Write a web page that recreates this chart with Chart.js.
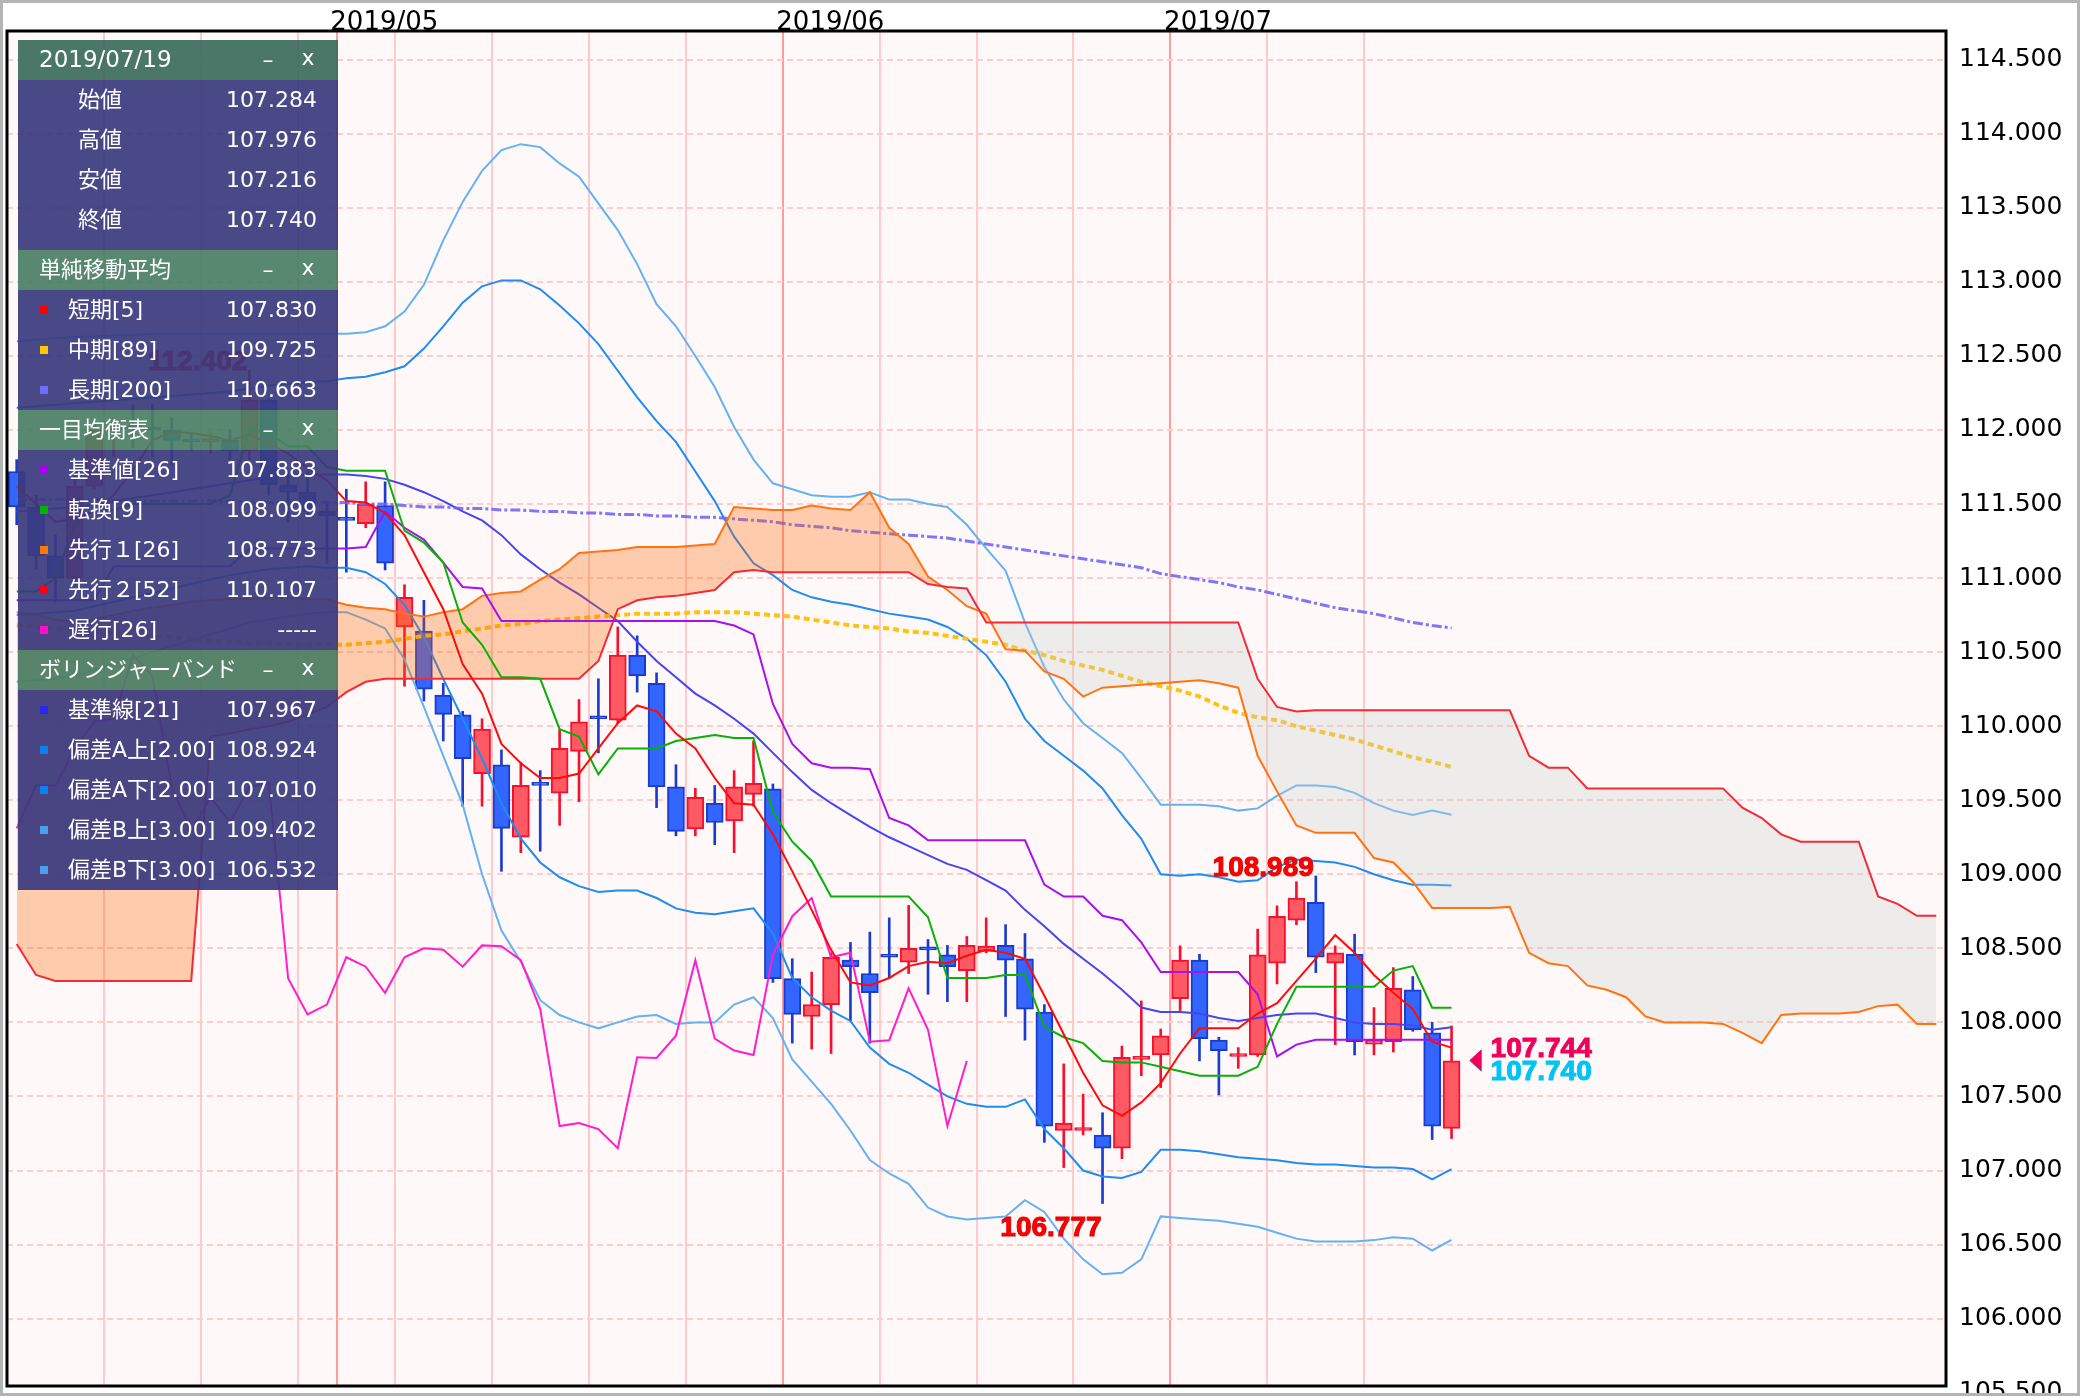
<!DOCTYPE html>
<html>
<head>
<meta charset="utf-8">
<title>USD/JPY 日足</title>
<script src="https://cdn.jsdelivr.net/npm/chart.js@4.4.1/dist/chart.umd.min.js"></script>
<style>
  html, body { margin: 0; padding: 0; background: #fff; }
  canvas { display: block; }
</style>
</head>
<body>
<canvas id="chart" width="2080" height="1396"></canvas>
<script>
// ---- categories (trading days, last 25 are the cloud's future slots) ----
const dates = [
  '2019/04/08','2019/04/09','2019/04/10','2019/04/11','2019/04/12',
  '2019/04/15','2019/04/16','2019/04/17','2019/04/18','2019/04/19',
  '2019/04/22','2019/04/23','2019/04/24','2019/04/25','2019/04/26',
  '2019/04/29','2019/04/30','2019/05/01','2019/05/02','2019/05/03',
  '2019/05/06','2019/05/07','2019/05/08','2019/05/09','2019/05/10',
  '2019/05/13','2019/05/14','2019/05/15','2019/05/16','2019/05/17',
  '2019/05/20','2019/05/21','2019/05/22','2019/05/23','2019/05/24',
  '2019/05/27','2019/05/28','2019/05/29','2019/05/30','2019/05/31',
  '2019/06/03','2019/06/04','2019/06/05','2019/06/06','2019/06/07',
  '2019/06/10','2019/06/11','2019/06/12','2019/06/13','2019/06/14',
  '2019/06/17','2019/06/18','2019/06/19','2019/06/20','2019/06/21',
  '2019/06/24','2019/06/25','2019/06/26','2019/06/27','2019/06/28',
  '2019/07/01','2019/07/02','2019/07/03','2019/07/04','2019/07/05',
  '2019/07/08','2019/07/09','2019/07/10','2019/07/11','2019/07/12',
  '2019/07/15','2019/07/16','2019/07/17','2019/07/18','2019/07/19',
  '2019/07/22','2019/07/23','2019/07/24','2019/07/25','2019/07/26',
  '2019/07/29','2019/07/30','2019/07/31','2019/08/01','2019/08/02',
  '2019/08/05','2019/08/06','2019/08/07','2019/08/08','2019/08/09',
  '2019/08/12','2019/08/13','2019/08/14','2019/08/15','2019/08/16',
  '2019/08/19','2019/08/20','2019/08/21','2019/08/22','2019/08/23'
];
const monthStarts = [17, 40, 60];
const monthNames = ['2019/05', '2019/06', '2019/07'];
const weekStarts = [0, 5, 10, 15, 20, 25, 30, 35, 40, 45, 50, 55, 60, 65, 70];

// ---- price axis ----
const yMin = 105.545, yMax = 114.694, yStep = 0.5;
const yExtraTicks = [105.5];

// ---- candles ----
const opens = [
  111.72,111.48,111.15,111.00,111.62, 112.00,112.02,112.01,112.00,111.93,
  111.92,111.93,111.86,112.20,111.63, 111.58,111.45,111.40,111.367,111.49,
  110.67,110.643,110.21,110.077,109.68, 109.74,109.25,109.61,109.548,109.83,
  110.06,110.04,110.48,110.29,109.59, 109.307,109.48,109.36,109.54,109.577,
  108.296,108.04,108.12,108.42,108.33, 108.45,108.406,108.50,108.457,108.35,
  108.48,108.52,108.43,108.07,107.27, 107.27,107.24,107.15,107.75,107.78,
  108.16,108.42,107.88,107.77,107.78, 108.40,108.69,108.81,108.40,108.46,
  107.853,107.87,108.22,107.93,107.284
];
const highs = [
  111.80,111.56,111.29,111.70,112.07, 112.08,112.17,112.17,112.08,111.98,
  111.98,112.00,112.402,112.21,111.72, 111.72,111.50,111.60,111.65,111.65,
  110.955,110.85,110.29,110.10,110.05, 109.84,109.755,109.70,109.977,110.18,
  110.32,110.67,110.61,110.36,109.74, 109.58,109.60,109.70,109.90,109.61,
  108.43,108.34,108.47,108.54,108.61, 108.706,108.79,108.56,108.52,108.58,
  108.706,108.66,108.60,108.12,107.72, 107.516,107.39,107.84,108.145,107.955,
  108.517,108.46,107.90,107.83,108.63, 108.787,108.95,108.989,108.517,108.596,
  108.10,108.37,108.31,108.00,107.976
];
const lows = [
  111.36,111.06,110.84,110.95,111.60, 111.82,111.88,111.82,111.76,111.86,
  111.84,111.80,111.80,111.56,111.38, 111.43,111.10,111.04,111.34,111.055,
  110.27,110.17,109.90,109.46,109.46, 109.02,109.146,109.156,109.33,109.49,
  109.82,110.02,110.23,109.45,109.26, 109.26,109.20,109.146,109.46,108.27,
  107.86,107.82,107.79,108.01,107.86, 108.30,108.33,108.19,108.14,108.14,
  108.47,108.04,107.88,107.19,107.02, 107.24,106.777,107.08,107.64,107.56,
  108.08,107.74,107.51,107.69,107.77, 108.26,108.66,108.336,107.85,107.78,
  107.78,107.80,107.94,107.209,107.216
];
const closes = [
  111.48,111.15,111.00,111.62,112.00, 112.02,112.01,112.00,111.93,111.92,
  111.93,111.86,112.20,111.63,111.58, 111.45,111.42,111.39,111.50,111.10,
  110.87,110.25,110.08,109.78,109.98, 109.31,109.60,109.60,109.85,110.03,
  110.05,110.48,110.34,109.59,109.29, 109.52,109.35,109.59,109.615,108.296,
  108.054,108.12,108.44,108.376,108.20, 108.44,108.50,108.49,108.376,108.52,
  108.515,108.42,108.09,107.30,107.32, 107.28,107.15,107.765,107.76,107.91,
  108.42,107.89,107.81,107.78,108.456, 108.717,108.84,108.44,108.47,107.87,
  107.88,108.23,107.95,107.30,107.740
];

// ---- moving averages ----
const sma5 = [
  111.62,111.50,111.38,111.40,111.45, 111.56,111.73,111.93,111.99,111.98,
  111.96,111.93,111.97,111.91,111.84, 111.74,111.66,111.52,111.51,111.44,
  111.29,111.04,110.79,110.42,110.22, 109.88,109.75,109.65,109.65,109.68,
  109.85,110.02,110.14,110.10,109.95, 109.85,109.65,109.48,109.47,109.27,
  109.02,108.76,108.49,108.27,108.25, 108.30,108.38,108.41,108.40,108.45,
  108.49,108.47,108.43,108.18,107.92, 107.66,107.44,107.37,107.46,107.59,
  107.79,107.96,107.96,107.96,108.06, 108.13,108.28,108.43,108.59,108.47,
  108.32,108.20,108.09,107.87,107.830
];
const sma89 = [
  110.68,110.67,110.66,110.65,110.64, 110.63,110.62,110.61,110.60,110.59,
  110.58,110.57,110.56,110.56,110.55, 110.55,110.55,110.55,110.56,110.57,
  110.59,110.61,110.62,110.64,110.66, 110.68,110.69,110.71,110.72,110.73,
  110.74,110.75,110.76,110.76,110.76, 110.77,110.77,110.77,110.76,110.75,
  110.74,110.72,110.70,110.68,110.67, 110.66,110.64,110.63,110.61,110.59,
  110.57,110.55,110.51,110.48,110.44, 110.41,110.38,110.34,110.30,110.27,
  110.24,110.20,110.14,110.09,110.06, 110.04,110.00,109.97,109.94,109.91,
  109.87,109.83,109.79,109.76,109.725
];
const sma200 = [
  111.53,111.53,111.53,111.53,111.53, 111.52,111.52,111.52,111.52,111.52,
  111.52,111.52,111.51,111.51,111.51, 111.51,111.51,111.51,111.50,111.50,
  111.49,111.48,111.48,111.47,111.47, 111.46,111.46,111.45,111.45,111.44,
  111.44,111.43,111.43,111.42,111.42, 111.41,111.41,111.40,111.39,111.38,
  111.36,111.35,111.34,111.32,111.31, 111.30,111.29,111.28,111.27,111.25,
  111.23,111.21,111.19,111.17,111.15, 111.13,111.11,111.09,111.07,111.03,
  111.01,110.99,110.97,110.94,110.92, 110.89,110.86,110.83,110.80,110.78,
  110.76,110.73,110.70,110.68,110.663
];

// ---- ichimoku ----
const kijun = [
  110.85,110.85,110.85,110.85,110.85, 111.08,111.08,111.08,111.08,111.08,
  111.08,111.08,111.20,111.20,111.20, 111.20,111.20,111.20,111.21,111.45,
  111.34,111.26,111.105,110.94,110.93, 110.71,110.71,110.71,110.71,110.71,
  110.71,110.71,110.71,110.71,110.71, 110.71,110.71,110.68,110.62,110.15,
  109.88,109.75,109.72,109.72,109.71, 109.38,109.33,109.23,109.23,109.23,
  109.23,109.23,109.23,108.93,108.85, 108.85,108.72,108.69,108.54,108.34,
  108.34,108.34,108.34,108.34,108.19, 107.77,107.85,107.883,107.883,107.883,
  107.883,107.883,107.883,107.883,107.883
];
const tenkan = [
  110.91,110.91,111.00,111.37,111.46, 111.46,111.50,111.50,111.50,111.50,
  111.50,111.56,112.00,111.98,111.89, 111.89,111.75,111.725,111.725,111.725,
  111.32,111.24,111.105,110.70,110.55, 110.33,110.33,110.32,109.98,109.93,
  109.675,109.85,109.85,109.85,109.90, 109.92,109.94,109.92,109.92,109.42,
  109.22,109.09,108.85,108.85,108.85, 108.85,108.85,108.71,108.30,108.30,
  108.30,108.32,108.32,107.97,107.90, 107.86,107.74,107.73,107.73,107.70,
  107.67,107.64,107.64,107.64,107.70, 107.99,108.24,108.24,108.24,108.24,
  108.24,108.35,108.38,108.099,108.099
];
const senkouA = [
  110.77,110.75,110.72,110.70,110.72, 110.75,110.78,110.80,110.82,110.84,
  110.85,110.86,110.86,110.87,110.87, 110.86,110.855,110.82,110.80,110.79,
  110.76,110.74,110.77,110.79,110.88, 110.90,110.91,110.99,111.06,111.17,
  111.18,111.19,111.21,111.21,111.21, 111.22,111.23,111.48,111.47,111.46,
  111.46,111.49,111.47,111.46,111.58, 111.34,111.23,111.01,110.92,110.81,
  110.76,110.52,110.51,110.37,110.32, 110.20,110.26,110.27,110.28,110.29,
  110.30,110.31,110.29,110.26,109.80, 109.56,109.33,109.28,109.28,109.28,
  109.11,109.08,108.95,108.773,108.773, 108.773,108.773,108.78,108.47,108.40,
  108.38,108.25,108.22,108.17,108.04, 108.00,108.00,108.00,107.99,107.93,
  107.86,108.05,108.06,108.06,108.06, 108.07,108.11,108.12,107.99,107.99
];
const senkouB = [
  108.53,108.32,108.28,108.28,108.28, 108.28,108.28,108.28,108.28,108.28,
  109.93,109.95,109.98,110.00,110.03, 110.08,110.13,110.23,110.30,110.32,
  110.32,110.32,110.32,110.32,110.32, 110.32,110.32,110.32,110.32,110.32,
  110.44,110.79,110.85,110.87,110.88, 110.90,110.92,111.04,111.055,111.04,
  111.04,111.04,111.04,111.04,111.04, 111.04,111.04,110.96,110.94,110.93,
  110.70,110.70,110.70,110.70,110.70, 110.70,110.70,110.70,110.70,110.70,
  110.70,110.70,110.70,110.70,110.32, 110.13,110.10,110.107,110.107,110.107,
  110.107,110.107,110.107,110.107,110.107, 110.107,110.107,110.107,109.80,109.72,
  109.72,109.58,109.58,109.58,109.58, 109.58,109.58,109.58,109.58,109.45,
  109.38,109.27,109.22,109.22,109.22, 109.22,108.85,108.80,108.72,108.72
];
const chikou = [
  109.31,109.60,109.60,109.85,110.03, 110.05,110.48,110.34,109.59,109.29,
  109.52,109.35,109.59,109.615,108.296, 108.054,108.12,108.44,108.376,108.20,
  108.44,108.50,108.49,108.376,108.52, 108.515,108.42,108.09,107.30,107.32,
  107.28,107.15,107.765,107.76,107.91, 108.42,107.89,107.81,107.78,108.456,
  108.717,108.84,108.44,108.47,107.87, 107.88,108.23,107.95,107.30,107.740
];

// ---- bollinger bands ----
const bbMid = [
  111.45,111.46,111.47,111.48,111.50, 111.52,111.54,111.56,111.58,111.60,
  111.62,111.64,111.66,111.68,111.69, 111.70,111.70,111.70,111.69,111.67,
  111.63,111.58,111.52,111.45,111.39, 111.29,111.16,111.06,110.97,110.89,
  110.80,110.71,110.57,110.44,110.33, 110.22,110.14,110.05,109.95,109.82,
  109.69,109.57,109.48,109.40,109.32, 109.25,109.19,109.13,109.07,109.03,
  108.96,108.89,108.76,108.65,108.53, 108.43,108.33,108.22,108.10,108.07,
  108.07,108.06,108.03,108.01,108.03, 108.05,108.06,108.06,108.03,108.00,
  107.99,107.99,107.98,107.95,107.967
];
const bbUp2 = [
  112.15,112.16,112.17,112.18,112.19, 112.20,112.21,112.22,112.23,112.24,
  112.25,112.26,112.28,112.30,112.31, 112.32,112.33,112.35,112.36,112.39,
  112.43,112.55,112.70,112.86,112.97, 113.01,113.01,112.95,112.84,112.72,
  112.58,112.40,112.22,112.06,111.92, 111.72,111.52,111.28,111.10,111.02,
  110.92,110.87,110.84,110.82,110.79, 110.76,110.74,110.72,110.67,110.59,
  110.48,110.30,110.05,109.90,109.80, 109.70,109.58,109.40,109.24,109.00,
  108.99,109.00,108.98,108.95,108.96, 109.05,109.10,109.09,109.08,109.05,
  109.00,108.96,108.93,108.93,108.924
];
const bbLo2 = [
  110.75,110.76,110.77,110.78,110.81, 110.84,110.87,110.90,110.93,110.96,
  110.99,111.02,111.04,111.06,111.07, 111.08,111.07,111.07,111.04,110.96,
  110.82,110.60,110.32,110.05,109.78, 109.48,109.24,109.08,108.98,108.92,
  108.88,108.89,108.89,108.84,108.77, 108.74,108.73,108.75,108.77,108.60,
  108.30,108.17,108.08,108.01,107.83, 107.72,107.66,107.58,107.50,107.45,
  107.43,107.43,107.48,107.28,107.15, 107.00,106.96,106.95,106.99,107.14,
  107.14,107.13,107.11,107.09,107.08, 107.07,107.05,107.04,107.04,107.03,
  107.02,107.02,107.01,106.94,107.010
];
const bbUp3 = [
  112.60,112.61,112.62,112.63,112.63, 112.64,112.64,112.65,112.65,112.65,
  112.65,112.65,112.65,112.65,112.65, 112.65,112.65,112.65,112.66,112.70,
  112.80,112.98,113.28,113.54,113.75, 113.89,113.93,113.91,113.80,113.71,
  113.53,113.35,113.12,112.85,112.70, 112.50,112.29,112.02,111.80,111.64,
  111.60,111.56,111.55,111.55,111.58, 111.53,111.53,111.50,111.48,111.36,
  111.20,111.05,110.70,110.40,110.18, 110.02,109.92,109.82,109.65,109.47,
  109.47,109.47,109.46,109.43,109.445, 109.53,109.60,109.60,109.59,109.55,
  109.48,109.43,109.40,109.43,109.402
];
const bbLo3 = [
  110.30,110.31,110.32,110.34,110.38, 110.42,110.46,110.50,110.54,110.58,
  110.62,110.66,110.70,110.72,110.74, 110.76,110.77,110.77,110.72,110.66,
  110.45,110.13,109.80,109.47,109.00, 108.62,108.41,108.15,108.05,108.00,
  107.96,108.00,108.04,108.05,107.99, 108.00,108.00,108.12,108.17,108.03,
  107.75,107.60,107.45,107.27,107.07, 106.98,106.91,106.75,106.69,106.67,
  106.68,106.69,106.80,106.72,106.54, 106.40,106.30,106.31,106.40,106.69,
  106.68,106.67,106.66,106.64,106.62, 106.58,106.54,106.52,106.52,106.52,
  106.53,106.55,106.54,106.46,106.532
];

// ---- marks on the chart ----
const highMarks = [12, 67];
const lowMarks = [56];
const tagValues = [107.740, 107.744];
const tagColors = ['#00C4F4', '#F0005C'];

// ---- info panel ----
const ohlcNames = ['始値', '高値', '安値', '終値'];
const smaNames = ['短期[5]', '中期[89]', '長期[200]'];
const smaColors = ['#FF0000', '#FFC800', '#6C6CFF'];
const ichiNames = ['基準値[26]', '転換[9]', '先行１[26]', '先行２[52]', '遅行[26]'];
const ichiColors = ['#A800F0', '#00B400', '#FF7A00', '#FF0010', '#FF10C8'];
const bbNames = ['基準線[21]', '偏差A上[2.00]', '偏差A下[2.00]', '偏差B上[3.00]', '偏差B下[3.00]'];
const bbColors = ['#2828E8', '#0A82F0', '#0A82F0', '#4AA0EC', '#4AA0EC'];

const RED_FILL = '#FF5A64', RED_LINE = '#F5102E';
const BLUE_FILL = '#3366FF', BLUE_LINE = '#1A3CCC';

const last = closes.length - 1;
const isUp = closes.map((c, i) => c >= opens[i]);

function lineSet(label, data, color, order, extra) {
  return Object.assign({
    type: 'line', label: label, data: data,
    borderColor: color, borderWidth: 2, pointRadius: 0,
    fill: false, tension: 0, order: order
  }, extra || {});
}

const datasets = [
  {
    type: 'bar', label: 'wick',
    data: lows.map((l, i) => [l, highs[i]]),
    backgroundColor: isUp.map(u => u ? RED_LINE : BLUE_LINE),
    barThickness: 2, grouped: false, order: 30
  },
  {
    type: 'bar', label: 'body',
    data: opens.map((o, i) => [o, closes[i]]),
    backgroundColor: isUp.map(u => u ? RED_FILL : BLUE_FILL),
    borderColor: isUp.map(u => u ? RED_LINE : BLUE_LINE),
    borderWidth: 2, borderSkipped: false, minBarLength: 3,
    barThickness: 17, grouped: false, order: 29
  },
  lineSet('bbUp3', bbUp3, '#64B2F2', 28),
  lineSet('bbLo3', bbLo3, '#64B2F2', 28),
  lineSet('bbUp2', bbUp2, '#1E8CF0', 27),
  lineSet('bbLo2', bbLo2, '#1E8CF0', 27),
  lineSet('bbMid', bbMid, '#4646F0', 26),
  lineSet('sma89', sma89, '#FFC20E', 25, { borderWidth: 4, borderDash: [6, 4] }),
  lineSet('sma200', sma200, 'rgba(104,96,250,0.85)', 24, { borderWidth: 3, borderDash: [10, 3, 3, 3] }),
  lineSet('senkouA', senkouA, '#FF7410', 23, {
    fill: { target: '+1', above: 'rgba(255,100,0,0.3)', below: 'rgba(200,205,205,0.3)' }
  }),
  lineSet('senkouB', senkouB, '#F42A36', 22),
  lineSet('chikou', chikou, '#FF1ECB', 21),
  lineSet('kijun', kijun, '#A810EC', 20),
  lineSet('tenkan', tenkan, '#08B008', 19),
  lineSet('sma5', sma5, '#FF0A0A', 18)
];

function drawPanel(c) {
  const L = 18, W = 320;
  const font = '22px "DejaVu Sans", "Noto Sans CJK JP", sans-serif';
  let y = 40;
  c.save();
  c.font = font;
  c.textBaseline = 'middle';

  function header(text, dark) {
    c.fillStyle = dark ? 'rgba(60,109,91,0.93)' : 'rgba(74,126,100,0.92)';
    c.fillRect(L, y, W, 40);
    c.fillStyle = '#FFFFFF';
    c.textAlign = 'left';
    c.font = dark ? '23px "DejaVu Sans", "Noto Sans CJK JP", sans-serif' : font;
    c.fillText(text, 39, y + 21);
    c.font = font;
    c.textAlign = 'center';
    c.fillText('–', 268, y + 21);
    c.fillText('x', 308, y + 19);
    y += 40;
  }
  function body(h) {
    c.fillStyle = 'rgba(58,57,126,0.92)';
    c.fillRect(L, y, W, h);
  }
  function row(i, name, value, color, labelX) {
    const cy = y + 20 + i * 40;
    if (color) {
      c.fillStyle = color;
      c.fillRect(40, cy - 4, 8, 8);
    }
    c.fillStyle = '#FFFFFF';
    c.textAlign = 'left';
    c.fillText(name, labelX, cy + 1);
    c.textAlign = 'right';
    c.fillText(value, 317, cy + 1);
  }

  header(dates[last], true);
  body(170);
  const ohlc = [opens[last], highs[last], lows[last], closes[last]];
  ohlcNames.forEach((n, i) => row(i, n, ohlc[i].toFixed(3), null, 78));
  y += 170;

  header('単純移動平均', false);
  body(120);
  const smaVals = [sma5[last], sma89[last], sma200[last]];
  smaNames.forEach((n, i) => row(i, n, smaVals[i].toFixed(3), smaColors[i], 68));
  y += 120;

  header('一目均衡表', false);
  body(200);
  const ichiVals = [kijun[last].toFixed(3), tenkan[last].toFixed(3), senkouA[last].toFixed(3), senkouB[last].toFixed(3), '-----'];
  ichiNames.forEach((n, i) => row(i, n, ichiVals[i], ichiColors[i], 68));
  y += 200;

  header('ボリンジャーバンド', false);
  body(200);
  const bbVals = [bbMid[last], bbUp2[last], bbLo2[last], bbUp3[last], bbLo3[last]];
  bbNames.forEach((n, i) => row(i, n, bbVals[i].toFixed(3), bbColors[i], 68));
  c.restore();
}

function boldText(c, text, x, y) {
  c.fillText(text, x, y);
  c.strokeText(text, x, y);
}

const decorations = {
  id: 'decorations',
  beforeDraw(chart) {
    const c = chart.ctx, a = chart.chartArea;
    c.save();
    c.fillStyle = '#FFFFFF';
    c.fillRect(0, 0, chart.width, chart.height);
    c.fillStyle = '#FFF8F8';
    c.fillRect(a.left, a.top, a.right - a.left, a.bottom - a.top);
    c.restore();
  },
  afterDatasetsDraw(chart) {
    const c = chart.ctx, xs = chart.scales.x, ys = chart.scales.y;
    c.save();
    c.font = 'bold 28px "Liberation Sans", Arial, sans-serif';
    c.textAlign = 'right';
    c.textBaseline = 'alphabetic';
    c.lineWidth = 1;
    c.fillStyle = '#FF0000';
    c.strokeStyle = '#E00000';
    highMarks.forEach(i => {
      boldText(c, highs[i].toFixed(3), xs.getPixelForValue(i) - 2, ys.getPixelForValue(highs[i]));
    });
    lowMarks.forEach(i => {
      boldText(c, lows[i].toFixed(3), xs.getPixelForValue(i) - 1, ys.getPixelForValue(lows[i]) + 32);
    });

    // last price tags
    const tx = xs.getPixelForValue(last) + 18;
    tagValues.forEach((v, k) => {
      const ty = ys.getPixelForValue(v);
      c.fillStyle = tagColors[k];
      c.beginPath();
      c.moveTo(tx, ty);
      c.lineTo(tx + 12, ty - 11);
      c.lineTo(tx + 12, ty + 11);
      c.closePath();
      c.fill();
    });
    c.textAlign = 'left';
    const yTop = ys.getPixelForValue(tagValues[1]);
    c.fillStyle = tagColors[1];
    c.strokeStyle = tagColors[1];
    boldText(c, tagValues[1].toFixed(3), tx + 21, yTop - 3);
    c.fillStyle = tagColors[0];
    c.strokeStyle = tagColors[0];
    boldText(c, tagValues[0].toFixed(3), tx + 21, yTop + 20);
    c.restore();
  },
  afterDraw(chart) {
    const c = chart.ctx, a = chart.chartArea;
    drawPanel(c);
    c.save();
    c.strokeStyle = '#000000';
    c.lineWidth = 3;
    c.strokeRect(a.left, a.top, a.right - a.left, a.bottom - a.top);
    c.strokeStyle = '#B4B4B4';
    c.lineWidth = 3;
    c.strokeRect(1.5, 1.5, chart.width - 3, chart.height - 3);
    c.restore();
  }
};

new Chart(document.getElementById('chart'), {
  type: 'bar',
  data: { labels: dates, datasets: datasets },
  options: {
    responsive: false,
    devicePixelRatio: 1,
    animation: false,
    events: [],
    layout: { padding: { left: 7, right: 0, top: 0, bottom: 10 }, autoPadding: false },
    plugins: { legend: { display: false }, tooltip: { enabled: false } },
    scales: {
      x: {
        type: 'category',
        position: 'top',
        offset: true,
        grid: {
          offset: true,
          drawTicks: false,
          lineWidth: 2,
          color: c => {
            if (monthStarts.includes(c.index)) return '#FF9C9C';
            if (weekStarts.includes(c.index)) return '#FFCACA';
            return 'rgba(0,0,0,0)';
          }
        },
        border: { display: false },
        ticks: {
          autoSkip: false, maxRotation: 0, minRotation: 0,
          align: 'start', labelOffset: -16, padding: 0,
          color: '#000000',
          font: { family: 'DejaVu Sans', size: 26, lineHeight: 0.6 },
          callback: (v, i) => {
            const k = monthStarts.indexOf(i);
            return k >= 0 ? monthNames[k] : '';
          }
        },
        afterFit: s => {
          s.height = 31;
          s.paddingLeft = 0; s.paddingRight = 0;
        }
      },
      y: {
        type: 'linear',
        position: 'right',
        min: yMin, max: yMax,
        grid: {
          drawTicks: false,
          lineWidth: 2,
          color: c => (c.tick && c.tick.value < yMin) ? 'rgba(0,0,0,0)' : '#FFCCCC'
        },
        border: { display: false, dash: [6, 4] },
        ticks: {
          stepSize: yStep, includeBounds: false, padding: 13,
          color: '#000000',
          font: { family: 'DejaVu Sans', size: 25 },
          callback: v => Number(v).toFixed(3)
        },
        afterBuildTicks: s => {
          yExtraTicks.forEach(v => s.ticks.unshift({ value: v }));
        },
        afterFit: s => {
          s.width = 134;
          s.paddingTop = 0; s.paddingBottom = 0;
        }
      }
    }
  },
  plugins: [decorations]
});
</script>
</body>
</html>
